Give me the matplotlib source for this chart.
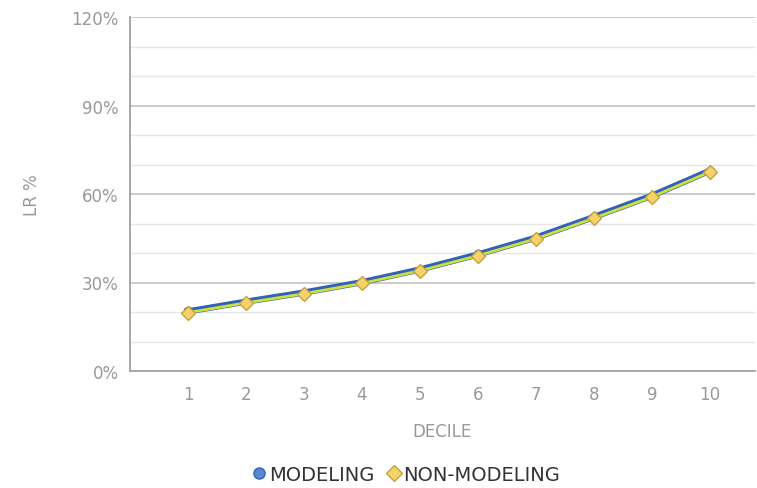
import numpy as np
import matplotlib
matplotlib.use('Agg')
import matplotlib.pyplot as plt
from matplotlib.lines import Line2D

deciles = [1, 2, 3, 4, 5, 6, 7, 8, 9, 10]
modeling = [20.2, 23.5, 26.6, 30.1, 34.4, 39.5, 45.2, 52.2, 59.4, 67.9]
non_modeling = [19.8, 23.1, 26.2, 29.7, 34.0, 39.1, 44.8, 51.8, 59.0, 67.5]
y_ticks = [0, 30, 60, 90, 120]
y_labels = ['0%', '30%', '60%', '90%', '120%']

fig = plt.figure(figsize=(7.57, 4.89), dpi=100)
ax = fig.add_axes([130/757, 117/489, 625/757, 354/489])

for v in range(10, 121, 10):
    if v % 30 == 0:
        ax.axhline(v, color='#c8c8c8', lw=1.3, zorder=0)
    else:
        ax.axhline(v, color='#e6e6e6', lw=1.0, zorder=0)

ax.plot(deciles, modeling, color='#2f62b8', lw=4.5, marker='o', ms=6,
        mfc='#5b86d0', mec='#2f62b8', zorder=3)
ax.plot(deciles, non_modeling, color='#cfe03c', lw=2.0, marker='D', ms=7.5,
        mfc='#f3d36a', mec='#c8a040', mew=1.0, zorder=4)

ax.set_xlim(0, 10.78)
ax.set_ylim(0, 120)
ax.set_xticks(deciles)
ax.set_yticks(y_ticks)
ax.set_yticklabels(y_labels)
ax.tick_params(axis='both', length=0, colors='#999999', labelsize=12)
ax.tick_params(axis='x', pad=10)
ax.tick_params(axis='y', pad=8)

for s in ['top', 'right']:
    ax.spines[s].set_visible(False)
ax.spines['left'].set_color('#a0a0a0')
ax.spines['bottom'].set_color('#a0a0a0')
ax.spines['left'].set_linewidth(1.3)
ax.spines['bottom'].set_linewidth(1.3)

ax.set_xlabel('DECILE', color='#999999', fontsize=12, labelpad=14)
ax.set_ylabel('LR %', color='#999999', fontsize=12, labelpad=22)

handles = [
    Line2D([], [], ls='none', marker='o', ms=8, mfc='#5b86d0', mec='#2f62b8'),
    Line2D([], [], ls='none', marker='D', ms=8, mfc='#f3d36a', mec='#c8a040'),
]
fig.legend(handles, ['MODELING', 'NON-MODELING'], loc='center',
           bbox_to_anchor=(0.535, 0.028), ncol=2, frameon=False,
           fontsize=14, handletextpad=0.0, columnspacing=0.5,
           labelcolor='#333333', handlelength=1.0)

fig.savefig('out.png', dpi=100)
